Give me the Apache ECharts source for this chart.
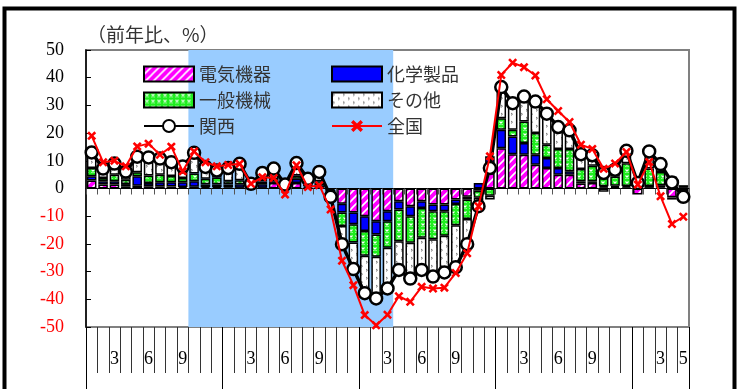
<!DOCTYPE html>
<html>
<head>
<meta charset="utf-8">
<script src="https://cdn.jsdelivr.net/npm/echarts@6/dist/echarts.min.js"></script>
<style>
  html, body { margin: 0; padding: 0; background: #fff; }
  #chart { width: 743px; height: 389px; }
</style>
</head>
<body>
<div id="chart"></div>
<script>
// Monthly categories, Jan 2007 - May 2011
const categories = [
  '2007/1','2007/2','2007/3','2007/4','2007/5','2007/6','2007/7','2007/8','2007/9','2007/10','2007/11','2007/12',
  '2008/1','2008/2','2008/3','2008/4','2008/5','2008/6','2008/7','2008/8','2008/9','2008/10','2008/11','2008/12',
  '2009/1','2009/2','2009/3','2009/4','2009/5','2009/6','2009/7','2009/8','2009/9','2009/10','2009/11','2009/12',
  '2010/1','2010/2','2010/3','2010/4','2010/5','2010/6','2010/7','2010/8','2010/9','2010/10','2010/11','2010/12',
  '2011/1','2011/2','2011/3','2011/4','2011/5'
];

// Month labels printed under the axis
const tickLabels = [
  '', '', '3', '', '', '6', '', '', '9', '', '', '',
  '', '', '3', '', '', '6', '', '', '9', '', '', '',
  '', '', '3', '', '', '6', '', '', '9', '', '', '',
  '', '', '3', '', '', '6', '', '', '9', '', '', '',
  '', '', '3', '', '5'
];

// Contributions by product group (percentage points)
const electrical = [
  2.9, 1.4, 1.4, 0.8, 1.0, 0.8, 0.8, 0.7, 0.5, 0.6, 0.5, 0.5,
  0.4, 0.3, -0.5, 0.3, 2.0, 0.3, 2.0, 0.3, 0.3, -0.5, -5.5, -8.7,
  -10.0, -11.8, -8.2, -4.6, -6.4, -4.6, -5.8, -5.8, -4.0, -3.0, -0.8, 5.6,
  14.5, 12.4, 12.2, 8.6, 7.4, 5.0, 5.0, 1.8, 2.0, 0.4, 0.5, 0.4,
  -2.2, 0.3, 0.4, -3.2, -1.0
];
const chemicals = [
  1.5, 1.2, 1.2, 0.8, 3.4, 1.2, 1.5, 1.6, 1.8, 2.0, 1.0, 1.0,
  1.0, 1.2, 0.5, 1.2, 0.6, 0.3, 1.5, 0.5, 0.8, -0.8, -3.2, -4.2,
  -5.3, -4.8, -3.6, -3.0, -3.6, -2.4, -2.4, -2.4, -1.6, -1.0, 2.0, 6.0,
  6.7, 6.4, 4.2, 3.6, 3.6, 2.4, 1.2, 0.8, 0.6, 0.4, 0.5, 0.5,
  0.6, 0.6, 0.8, 0.3, 0.3
];
const machinery = [
  3.0, 1.2, 2.4, 1.6, 1.5, 2.7, 2.7, 2.2, 1.5, 2.8, 2.0, 2.5,
  1.2, 1.5, 0.5, 1.0, 0.8, 0.3, 1.2, 1.2, 1.5, -0.5, -4.8, -6.6,
  -9.0, -8.0, -9.6, -11.4, -9.6, -10.8, -10.1, -8.9, -7.7, -7.0, -2.5, -2.6,
  4.2, 2.4, 7.8, 7.8, 4.8, 6.9, 8.1, 4.4, 5.6, 3.0, 3.3, 8.2,
  1.0, 6.3, 4.8, 4.0, 0.9
];
const others = [
  5.6, 3.4, 4.0, 2.9, 5.6, 6.5, 5.8, 5.0, 4.1, 7.5, 4.3, 2.5,
  4.8, 5.9, 0.7, 3.1, 3.8, 0.5, 4.5, 1.5, 3.4, -1.2, -6.6, -9.6,
  -13.5, -15.1, -14.7, -10.4, -12.9, -11.6, -13.5, -13.2, -15.1, -9.1, -3.5, -1.4,
  11.2, 9.6, 9.0, 11.4, 11.2, 7.9, 6.7, 4.8, 2.0, -1.2, 1.0, 3.5,
  0.4, 5.0, 2.0, -0.8, -1.8
];

// Year-on-year export growth (%)
const kansai = [
  13.0, 7.2, 9.0, 6.1, 11.5, 11.2, 10.8, 9.5, 7.9, 12.9, 7.8, 6.5,
  7.4, 8.9, 1.7, 5.6, 7.2, 1.4, 9.2, 3.5, 6.0, -3.0, -20.1, -29.1,
  -37.8, -39.7, -36.1, -29.4, -32.5, -29.4, -31.8, -30.3, -28.4, -20.1, -6.4, 7.4,
  36.6, 30.8, 33.2, 31.4, 27.0, 22.2, 21.0, 12.4, 12.0, 5.6, 6.8, 13.6,
  2.0, 13.4, 8.8, 2.2, -3.0
];
const national = [
  19.0, 9.5, 10.0, 8.0, 15.2, 16.2, 12.2, 15.1, 6.2, 13.4, 9.5, 8.0,
  8.5, 8.9, 1.7, 4.1, 3.8, -2.2, 8.4, 0.5, 1.2, -7.6, -26.1, -34.9,
  -45.7, -49.4, -45.6, -38.9, -40.9, -35.5, -36.1, -35.8, -30.5, -23.4, -6.4, 11.6,
  41.0, 45.4, 43.8, 40.8, 32.2, 28.0, 24.0, 15.8, 14.3, 7.1, 9.0, 13.2,
  1.4, 9.6, -2.8, -12.8, -10.2
];

// Shaded downturn: Oct 2007 through Mar 2009 (category boundaries)
const shadeFrom = 9;
const shadeTo = 27;

function makePattern(w, h, draw) {
  const c = document.createElement('canvas');
  c.width = w; c.height = h;
  draw(c.getContext('2d'), w, h);
  return c;
}

// magenta with white upward diagonals
const stripeTile = makePattern(8, 8, (g, w, h) => {
  g.fillStyle = '#FF00FF';
  g.fillRect(0, 0, w, h);
  g.strokeStyle = '#FFFFFF';
  g.lineWidth = 1.6;
  g.beginPath();
  g.moveTo(-1, h + 1); g.lineTo(w + 1, -1);
  g.moveTo(-1, 1); g.lineTo(1, -1);
  g.moveTo(w - 1, h + 1); g.lineTo(w + 1, h - 1);
  g.stroke();
});

// green with small white crosses
const crossTile = makePattern(6, 6, (g, w, h) => {
  g.fillStyle = '#1EEE1E';
  g.fillRect(0, 0, w, h);
  g.strokeStyle = '#FFFFFF';
  g.lineWidth = 1.1;
  g.beginPath();
  g.moveTo(1.5, 1.5); g.lineTo(4.5, 4.5);
  g.moveTo(4.5, 1.5); g.lineTo(1.5, 4.5);
  g.stroke();
});

// white with sparse grey marks
const dotTile = makePattern(10, 8, (g, w, h) => {
  g.fillStyle = '#FFFFFF';
  g.fillRect(0, 0, w, h);
  g.strokeStyle = '#777777';
  g.lineWidth = 1;
  g.beginPath();
  g.moveTo(1, 1); g.lineTo(2.5, 2.2); g.lineTo(1, 3.4);
  g.moveTo(6, 5); g.lineTo(7.5, 6.2); g.lineTo(6, 7.4);
  g.stroke();
});

const crossSymbol = 'path://M2,0 L5,3 L8,0 L10,2 L7,5 L10,8 L8,10 L5,7 L2,10 L0,8 L3,5 L0,2 Z';

const barBase = {
  type: 'bar',
  stack: 'total',
  xAxisIndex: 0,
  yAxisIndex: 0,
  barCategoryGap: '16%',
  z: 2
};

function barSeries(name, fill, data) {
  return Object.assign({}, barBase, {
    name: name,
    data: data,
    itemStyle: {
      color: fill,
      borderColor: '#000000',
      borderWidth: 1.5
    }
  });
}

const jpFont = '"Noto Sans CJK JP", "Noto Sans", sans-serif';
const serifFont = '"Liberation Serif", "DejaVu Serif", serif';

const legendText = { fontSize: 18, fontFamily: jpFont, color: '#333333' };

const chart = echarts.init(document.getElementById('chart'), null, { renderer: 'canvas' });

chart.setOption({
  animation: false,
  backgroundColor: '#FFFFFF',
  grid: {
    left: 86, right: 54, top: 50, bottom: 62,
    show: true,
    borderColor: '#808080',
    borderWidth: 2,
    backgroundColor: '#FFFFFF'
  },
  graphic: [
    {
      type: 'rect',
      shape: { x: 4.5, y: 8.5, width: 730, height: 400 },
      style: { fill: 'none', stroke: '#000000', lineWidth: 4 },
      z: 100
    },
    {
      type: 'text',
      left: 87, top: 25,
      style: { text: '（前年比、%）', fontSize: 19, fontFamily: jpFont, fill: '#333333' }
    }
  ],
  legend: [
    {
      orient: 'vertical',
      left: 143, top: 65,
      padding: 0,
      itemWidth: 50, itemHeight: 15, itemGap: 8,
      textStyle: legendText,
      data: [
        { name: '電気機器', icon: 'rect' },
        { name: '一般機械', icon: 'rect' },
        { name: '関西' }
      ]
    },
    {
      orient: 'vertical',
      left: 331, top: 65,
      padding: 0,
      itemWidth: 50, itemHeight: 15, itemGap: 8,
      textStyle: legendText,
      data: [
        { name: '化学製品', icon: 'rect' },
        { name: 'その他', icon: 'rect' },
        { name: '全国' }
      ]
    }
  ],
  xAxis: [
    {
      // axis crossing at zero
      type: 'category',
      data: categories,
      position: 'bottom',
      axisLine: { onZero: true, lineStyle: { color: '#000000', width: 1.2 } },
      axisTick: { show: true, interval: 0, length: 6, lineStyle: { color: '#555555', width: 1 } },
      axisLabel: { show: false },
      splitLine: { show: false },
      z: 5
    },
    {
      // month labels along the bottom
      type: 'category',
      data: categories,
      position: 'bottom',
      axisLine: { show: false, onZero: false },
      axisTick: { show: true, interval: 0, length: 46, lineStyle: { color: '#333333', width: 1 } },
      axisLabel: {
        show: true,
        interval: 0,
        margin: 23,
        fontSize: 18,
        fontFamily: serifFont,
        color: '#000000',
        formatter: (v, i) => tickLabels[i]
      },
      splitLine: { show: false }
    },
    {
      // year separators
      type: 'value',
      min: 0,
      max: categories.length,
      interval: 12,
      position: 'bottom',
      axisLine: { show: false, onZero: false },
      axisTick: { show: true, length: 66, lineStyle: { color: '#000000', width: 1 } },
      axisLabel: { show: false },
      splitLine: { show: false }
    }
  ],
  yAxis: {
    type: 'value',
    min: -50,
    max: 50,
    interval: 10,
    axisLine: { show: true, lineStyle: { color: '#000000', width: 1.5 } },
    axisTick: { show: true, inside: true, length: 5, lineStyle: { color: '#000000' } },
    splitLine: { show: false },
    axisLabel: {
      margin: 22,
      fontSize: 18,
      fontFamily: serifFont,
      formatter: v => (v < 0 ? '{neg|' + v + '}' : '{pos|' + v + '}'),
      rich: {
        neg: { color: '#FF0000', fontSize: 18, fontFamily: serifFont },
        pos: { color: '#000000', fontSize: 18, fontFamily: serifFont }
      }
    }
  },
  series: [
    {
      type: 'line',
      xAxisIndex: 2,
      yAxisIndex: 0,
      data: [],
      silent: true,
      z: 1,
      markArea: {
        silent: true,
        itemStyle: { color: '#99CCFF', opacity: 1 },
        data: [[{ xAxis: shadeFrom }, { xAxis: shadeTo }]]
      }
    },
    barSeries('電気機器', { image: stripeTile, repeat: 'repeat' }, electrical),
    barSeries('化学製品', '#0000FF', chemicals),
    barSeries('一般機械', { image: crossTile, repeat: 'repeat' }, machinery),
    barSeries('その他', { image: dotTile, repeat: 'repeat' }, others),
    {
      name: '関西',
      type: 'line',
      xAxisIndex: 0,
      yAxisIndex: 0,
      data: kansai,
      z: 6,
      symbol: 'circle',
      symbolSize: 12,
      showAllSymbol: true,
      lineStyle: { color: '#000000', width: 3.5 },
      itemStyle: { color: '#FFFFFF', borderColor: '#000000', borderWidth: 2.5 }
    },
    {
      name: '全国',
      type: 'line',
      xAxisIndex: 0,
      yAxisIndex: 0,
      data: national,
      z: 7,
      symbol: crossSymbol,
      symbolSize: 9,
      showAllSymbol: true,
      lineStyle: { color: '#FF0000', width: 2 },
      itemStyle: { color: '#FF0000' }
    }
  ]
});
</script>
</body>
</html>
